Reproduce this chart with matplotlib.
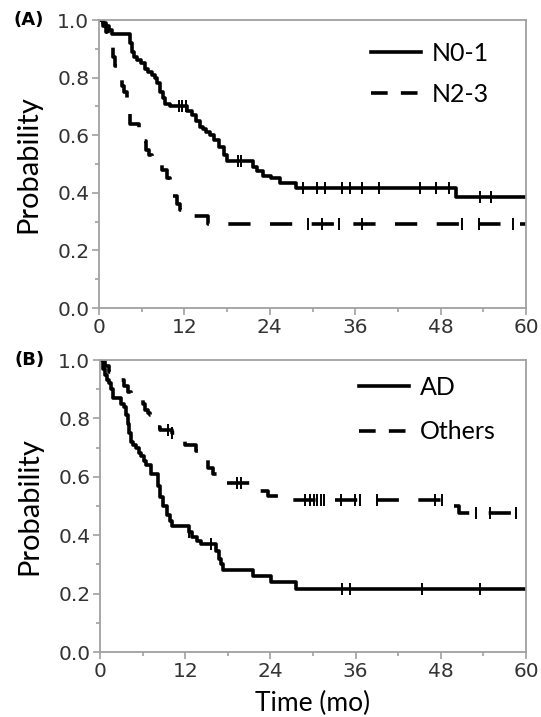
import matplotlib
matplotlib.use("Agg")
import matplotlib.pyplot as plt
from matplotlib.lines import Line2D
from matplotlib.ticker import MultipleLocator

# Panel A: N stage
n01_t = [0, 0.5, 1.0, 1.4, 1.8, 4.3, 4.6, 4.9, 5.3, 5.9, 6.4, 6.9, 7.4, 7.8, 8.2,
         8.6, 9.0, 9.3, 10.0, 12.4, 13.0, 13.7, 14.2, 14.6, 15.1, 15.6, 16.2, 16.8,
         17.5, 18.0, 21.6, 22.2, 23.1, 24.1, 25.5, 27.7, 50.2, 60]
n01_s = [1.0, 0.99, 0.98, 0.965, 0.953, 0.92, 0.89, 0.87, 0.86, 0.85, 0.83, 0.82,
         0.81, 0.80, 0.78, 0.75, 0.73, 0.71, 0.70, 0.685, 0.67, 0.65, 0.63, 0.62,
         0.61, 0.60, 0.585, 0.56, 0.53, 0.51, 0.49, 0.475, 0.46, 0.45, 0.435,
         0.418, 0.385, 0.385]
n01_cens = [11.2, 11.7, 12.2, 19.5, 20.0, 28.7, 30.6, 31.8, 34.1, 35.2, 36.9,
            39.3, 45.1, 47.3, 49.2, 53.6, 55.1]

n23_t = [0, 0.6, 1.0, 1.3, 1.6, 1.9, 2.3, 2.8, 3.2, 3.5, 4.0, 4.4, 5.6, 6.2, 6.6,
         7.0, 7.4, 8.8, 9.6, 10.0, 10.4, 10.9, 11.4, 12.0, 15.3, 60]
n23_s = [1.0, 0.98, 0.96, 0.94, 0.91, 0.87, 0.84, 0.80, 0.77, 0.75, 0.72, 0.64,
         0.62, 0.58, 0.55, 0.53, 0.52, 0.48, 0.45, 0.42, 0.39, 0.36, 0.34, 0.32,
         0.29, 0.29]
n23_cens = [29.4, 31.4, 33.7, 36.9, 51.0, 53.4, 58.2]

# Panel B: histology
ad_t = [0, 0.4, 0.7, 1.0, 1.2, 1.5, 1.9, 2.9, 3.4, 3.7, 3.9, 4.1, 4.3, 4.7, 5.1,
        5.5, 5.8, 6.2, 6.5, 7.2, 8.2, 8.5, 8.9, 9.4, 9.9, 10.1, 12.5, 13.0, 13.7,
        14.2, 16.4, 16.8, 17.1, 17.3, 21.6, 24.1, 27.6, 60]
ad_s = [1.0, 0.97, 0.95, 0.93, 0.92, 0.90, 0.87, 0.85, 0.84, 0.81, 0.78, 0.75,
        0.72, 0.71, 0.70, 0.68, 0.67, 0.655, 0.64, 0.61, 0.57, 0.53, 0.50, 0.47,
        0.45, 0.43, 0.41, 0.395, 0.38, 0.37, 0.345, 0.32, 0.30, 0.28, 0.26, 0.24,
        0.215, 0.215]
ad_cens = [12.5, 15.7, 34.1, 35.2, 45.3, 53.5]

oth_t = [0, 0.7, 1.2, 1.9, 3.4, 3.9, 4.3, 6.0, 6.4, 6.7, 7.1, 7.5, 8.2, 8.5, 10.1,
         10.6, 11.3, 12.0, 13.5, 14.0, 15.2, 15.9, 16.9, 17.8, 21.9, 23.6, 25.1,
         49.2, 50.6, 60]
oth_s = [1.0, 0.98, 0.96, 0.93, 0.91, 0.89, 0.88, 0.85, 0.83, 0.82, 0.81, 0.80,
         0.77, 0.76, 0.75, 0.74, 0.73, 0.71, 0.69, 0.66, 0.63, 0.61, 0.60, 0.58,
         0.55, 0.535, 0.52, 0.50, 0.475, 0.475]
oth_cens = [9.6, 10.1, 19.3, 19.8, 28.9, 29.6, 30.1, 30.6, 31.1, 31.6, 34.0, 35.9,
            36.6, 39.0, 47.2, 48.2, 53.0, 54.9, 58.6]

plt.rcParams["lines.scale_dashes"] = False
LABEL_FONT = ["Lato", "DejaVu Sans"]
DASH = (0, (16, 14))
LEG_DASH = (0, (12, 9.5))
GRAY = "#a0a0a0"
LW = 2.6


def surv_at(t, times, surv):
    val = surv[0]
    for ti, si in zip(times, surv):
        if ti <= t:
            val = si
    return val


def km_panel(ax, curves, tag):
    handles = []
    for times, surv, cens, ls, label in curves:
        ax.plot(times, surv, drawstyle="steps-post", color="black", lw=LW,
                linestyle=ls, solid_capstyle="butt")
        ax.plot(cens, [surv_at(c, times, surv) for c in cens], linestyle="none",
                marker="|", markersize=9, mew=1.4, color="black")
        leg_ls = "-" if ls == "-" else LEG_DASH
        handles.append(Line2D([], [], color="black", lw=LW, linestyle=leg_ls,
                              label=label))
    ax.set_xlim(0, 60)
    ax.set_ylim(0, 1.0)
    ax.xaxis.set_major_locator(MultipleLocator(12))
    ax.xaxis.set_minor_locator(MultipleLocator(6))
    ax.yaxis.set_major_locator(MultipleLocator(0.2))
    ax.yaxis.set_minor_locator(MultipleLocator(0.1))
    ax.yaxis.set_major_formatter(plt.FuncFormatter(lambda v, p: f"{v:.1f}"))
    ax.tick_params(which="both", direction="out", color=GRAY, width=1.2,
                   labelsize=14.5, labelcolor="#333333", pad=2)
    ax.tick_params(which="major", length=5)
    ax.tick_params(which="minor", length=3)
    for sp in ax.spines.values():
        sp.set_color(GRAY)
        sp.set_linewidth(1.3)
    ax.set_ylabel("Probability", fontsize=21, family=LABEL_FONT, labelpad=11)
    ax.text(-0.2, 1.0, tag, transform=ax.transAxes, fontsize=13,
            fontweight="bold", ha="left", va="center")
    return handles


fig = plt.figure(figsize=(5.41, 7.17), dpi=100)
ax_a = fig.add_axes([99 / 541, 1 - 308 / 717, 427 / 541, 288 / 717])
ax_b = fig.add_axes([100 / 541, 1 - 652 / 717, 426 / 541, 292 / 717])

h_a = km_panel(ax_a, [(n01_t, n01_s, n01_cens, "-", "N0-1"),
                      (n23_t, n23_s, n23_cens, DASH, "N2-3")], "(A)")
h_b = km_panel(ax_b, [(ad_t, ad_s, ad_cens, "-", "AD"),
                      (oth_t, oth_s, oth_cens, DASH, "Others")], "(B)")

ax_b.set_xlabel("Time (mo)", fontsize=19, family=LABEL_FONT, labelpad=7)

for ax, hs, x0, y0, sp in [(ax_a, h_a, 0.637, 0.925, 0.72),
                           (ax_b, h_b, 0.608, 0.945, 0.85)]:
    ax.legend(handles=hs, loc="upper left", bbox_to_anchor=(x0, y0),
              frameon=False, prop={"family": LABEL_FONT, "size": 18},
              handlelength=2.0, handletextpad=0.45, labelspacing=sp,
              borderpad=0, borderaxespad=0)

fig.savefig("out.png", dpi=100)
